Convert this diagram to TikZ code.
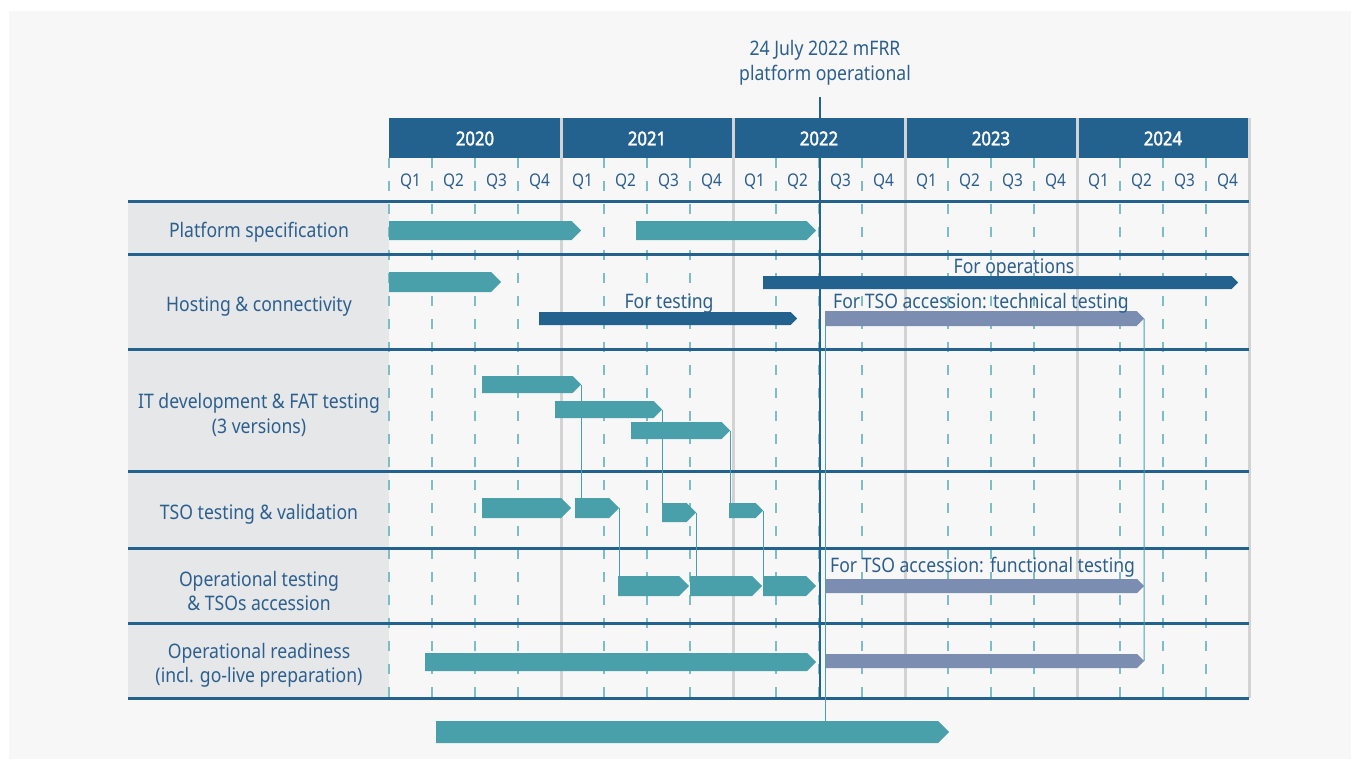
\documentclass[tikz,border=0pt]{standalone}
\usepackage{fontspec}
\setmainfont{Noto Sans}[FakeStretch=0.88]
\newfontfamily\yearfont{Noto Sans}[FakeStretch=0.88, FakeBold=2]
\usetikzlibrary{shapes.symbols}
\definecolor{dblue}{HTML}{23618E}
\definecolor{tblue}{HTML}{2C5F8D}
\definecolor{teal}{HTML}{4AA0AA}
\definecolor{slate}{HTML}{7B8EB1}
\definecolor{labelbg}{HTML}{E6E7E9}
\definecolor{panel}{HTML}{F7F7F7}
\definecolor{ygray}{HTML}{D3D3D3}
\definecolor{qdash}{HTML}{7DBEC6}
\tikzset{
  gbar/.style={signal, signal to=east, draw=none, inner sep=0pt, outer sep=0pt},
  rowline/.style={draw=dblue, line width=3pt},
  yearline/.style={draw=ygray, line width=3pt},
  qline/.style={draw=qdash, line width=1.3pt, dash pattern=on 10pt off 13pt},
  conn/.style={draw=teal, line width=1pt},
  rowlabel/.style={text=tblue, align=center, yshift=-2.5pt, font=\fontsize{20}{24.5}\selectfont},
  barlabel/.style={text=tblue, yshift=-2.5pt, font=\fontsize{20}{22}\selectfont, inner sep=0pt},
  yearlabel/.style={text=white, yshift=-0.5pt, font=\yearfont\fontsize{19}{22}\selectfont},
  qlabel/.style={text=tblue, yshift=-1pt, font=\fontsize{17.5}{20}\selectfont},
}
\newcommand\gb[6]{% name, x1, x2, ytop, ybot, colour
  \pgfmathsetmacro\bw{#3-#2}\pgfmathsetmacro\bh{#5-#4}\pgfmathsetmacro\bm{(#4+#5)/2}
  \node[gbar, fill=#6, minimum width=\bw pt, minimum height=\bh pt, anchor=west] (#1) at (#2,\bm) {};}
\begin{document}
\begin{tikzpicture}[x=1pt,y=-1pt]
\useasboundingbox (0,0) rectangle (1360,760);
\fill[white] (0,0) rectangle (1360,760);
\fill[panel] (9,11) rectangle (1351,759);
% label column
\fill[labelbg] (128,201) rectangle (389,698);
% header band
\fill[dblue] (389,118) rectangle (1249,158);
% quarter dashed lines
\foreach \k in {0,1,2,3,5,6,7,9,10,11,13,14,15,17,18,19}
  \draw[qline] ({389+43*\k},158) -- ({389+43*\k},698);
% year separators
\foreach \x in {561,733,905,1077,1249}
  \draw[yearline] (\x,118) -- (\x,698);
% row lines
\foreach \y in {201.5,254,349,471,548,623,698}
  \draw[rowline] (128,\y) -- (1249,\y);
% milestone line
\coordinate (mtop) at (820,97);
\coordinate (mbot) at (820,698);
\draw[draw=dblue, line width=2.5pt] (mtop) -- (mbot);
% year and quarter labels
\foreach \y [count=\i from 0] in {2020,2021,2022,2023,2024}
  \node[yearlabel] at ({389+172*\i+86},138) {\y};
\foreach \i in {0,...,4}
  \foreach \q in {1,...,4}
    \node[qlabel] at ({389+172*\i+43*(\q-1)+21.5},181) {Q\q};
% milestone label
\node[rowlabel] (mlabel) at (825,60.5) {24 July 2022 mFRR\\platform operational};
% row labels
\node[rowlabel] (r1) at (259,230) {Platform specification};
\node[rowlabel] (r2) at (259,304) {Hosting \& connectivity};
\node[rowlabel] (r3) at (259,412.5) {IT development \& FAT testing\\(3 versions)};
\node[rowlabel] (r4) at (259,512) {TSO testing \& validation};
\node[rowlabel] (r5) at (259,588.5) {Operational testing\\\& TSOs accession};
\node[rowlabel] (r6) at (259,663) {Operational readiness\\(incl. go-live preparation)};
% bars
\gb{a1}{389}{581}{221}{240}{teal}
\gb{a2}{636}{816}{221}{240}{teal}
\gb{h1}{389}{501}{272}{292}{teal}
\gb{ops}{763}{1238}{276}{289}{dblue}
\gb{tst}{539}{797}{312}{325}{dblue}
\gb{tt}{825}{1144}{311}{326}{slate}
\gb{b1}{482}{581}{376}{393}{teal}
\gb{b2}{555}{662}{401}{418}{teal}
\gb{b3}{631}{730}{422}{439}{teal}
\gb{c1}{482}{571}{498}{518}{teal}
\gb{c2}{575}{619}{498}{518}{teal}
\gb{c3}{662}{696}{503}{522}{teal}
\gb{c4}{729}{763}{503}{518}{teal}
\gb{d1}{618}{689}{576}{596}{teal}
\gb{d2}{690}{762}{576}{596}{teal}
\gb{d3}{763}{816}{576}{596}{teal}
\gb{ft}{825}{1144}{579}{593}{slate}
\gb{e1}{425}{816}{653}{671}{teal}
\gb{e2}{825}{1144}{654}{668}{slate}
\gb{fin}{436}{949}{721}{743}{teal}
% connectors
\draw[conn] (b1.east) -- (b1.east |- c2.north);
\draw[conn] (b2.east) -- (b2.east |- c3.north);
\draw[conn] (b3.east) -- (b3.east |- c4.north);
\draw[conn] (c2.east) -- (c2.east |- d1.north);
\draw[conn] (c3.east) -- (c3.east |- d2.north);
\draw[conn] (c4.east) -- (c4.east |- d3.north);
\draw[conn] (tt.east) -- (e2.east);
\draw[conn] (tt.south west) -- (tt.south west |- fin.north);
% bar labels
\node[barlabel] (ltst) at (669,301) {For testing};
\node[barlabel] (lops) at (1014,266) {For operations};
\node[barlabel, anchor=west] (ltt) at (833,301) {For TSO accession: technical testing};
\node[barlabel, anchor=west] (lft) at (830,565) {For TSO accession: functional testing};
\end{tikzpicture}
\end{document}
